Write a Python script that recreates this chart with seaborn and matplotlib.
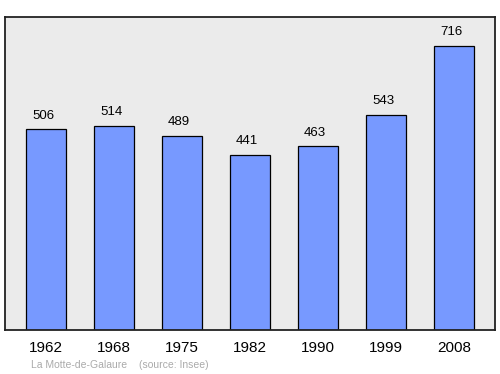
import matplotlib
matplotlib.use("Agg")
import matplotlib.pyplot as plt
import seaborn as sns
import pandas as pd

years = ["1962", "1968", "1975", "1982", "1990", "1999", "2008"]
population = [506, 514, 489, 441, 463, 543, 716]
footer_place = "La Motte-de-Galaure"
footer_source = "(source: Insee)"

sns.set_style("white")
plt.rcParams['font.family'] = ['Liberation Sans', 'DejaVu Sans']

df = pd.DataFrame({"year": years, "pop": population})

fig = plt.figure(figsize=(5, 3.74), dpi=100)
ax = fig.add_axes([0.01, 1 - 330 / 374, 0.98, (330 - 17) / 374])
ax.set_facecolor("#ebebeb")

sns.barplot(data=df, x="year", y="pop", ax=ax, color="#7799ff", saturation=1,
            width=0.59, edgecolor="black", linewidth=0.9)

ax.set_xlim(-0.603, 6.603)
ax.set_ylim(0, 789)
ax.set_yticks([])
ax.set_xlabel("")
ax.set_ylabel("")
for s in ax.spines.values():
    s.set_visible(True)
    s.set_color("#222222")
    s.set_linewidth(1.3)

ax.tick_params(axis="x", length=0, labelsize=11, pad=8, colors="black")

for i, v in enumerate(population):
    ax.annotate(str(v), (i, v), xytext=(-2, 5.5), textcoords="offset points",
                ha="center", va="bottom", fontsize=9.5, color="black")

fig.text(31 / 500, 1 - 365 / 374, footer_place, fontsize=7.5, color="#aaaaaa",
         ha="left", va="center")
fig.text(139 / 500, 1 - 365 / 374, footer_source, fontsize=7.5, color="#aaaaaa",
         ha="left", va="center")

fig.savefig("out.png", dpi=100, facecolor="white")
